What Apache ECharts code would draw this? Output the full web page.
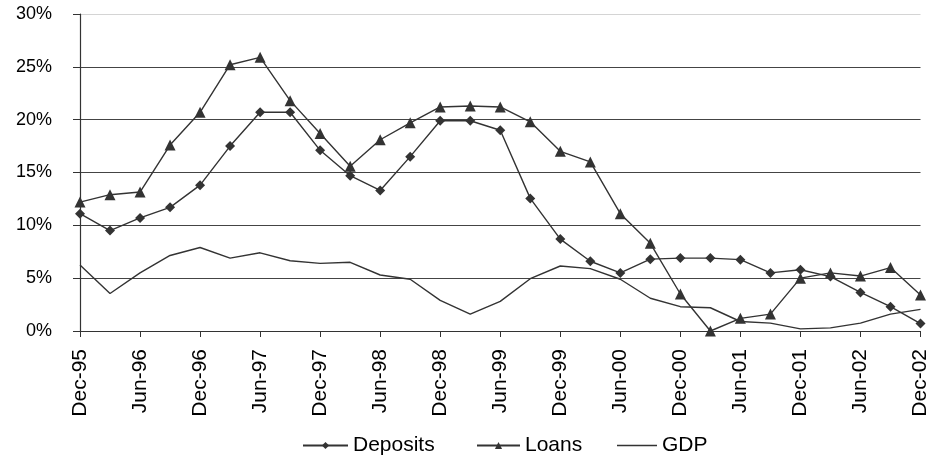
<!DOCTYPE html>
<html>
<head>
<meta charset="utf-8">
<script src="https://cdn.jsdelivr.net/npm/echarts@6/dist/echarts.min.js"></script>
<style>html,body{margin:0;padding:0;background:#fff;}#c{width:931px;height:458px;}</style>
</head>
<body>
<div id="c"></div>
<script>
const categories = ['Dec-95','Mar-96','Jun-96','Sep-96','Dec-96','Mar-97','Jun-97','Sep-97','Dec-97','Mar-98','Jun-98','Sep-98','Dec-98','Mar-99','Jun-99','Sep-99','Dec-99','Mar-00','Jun-00','Sep-00','Dec-00','Mar-01','Jun-01','Sep-01','Dec-01','Mar-02','Jun-02','Sep-02','Dec-02'];
const deposits = [11.1,9.5,10.7,11.7,13.8,17.5,20.7,20.7,17.1,14.7,13.3,16.5,19.9,19.9,19.0,12.55,8.7,6.6,5.5,6.8,6.9,6.9,6.75,5.5,5.8,5.15,3.65,2.3,0.7];
const loans = [12.2,12.9,13.15,17.6,20.7,25.2,25.9,21.8,18.7,15.6,18.1,19.7,21.2,21.3,21.2,19.8,17.0,16.0,11.1,8.3,3.5,0.0,1.2,1.6,5.0,5.5,5.2,6.0,3.4];
const gdp = [6.25,3.55,5.5,7.15,7.9,6.9,7.4,6.65,6.4,6.5,5.3,4.9,2.9,1.6,2.8,4.95,6.15,5.9,4.9,3.1,2.3,2.2,0.9,0.75,0.2,0.3,0.75,1.6,2.05];
const yTicks = [0,5,10,15,20,25,30];
const seriesNames = ['Deposits','Loans','GDP'];

const lineColor = '#333333';
const baseFont = 'Liberation Sans, Arial, sans-serif';
const narrowFont = '"Liberation Sans Narrow", "Liberation Sans", Arial, sans-serif';
const legendText = {fontSize: 21, color: '#000', fontFamily: narrowFont};
function legendAt(left, name, extra) {
  return Object.assign({
    top: 430, left: left, itemWidth: 45, itemHeight: 9, itemGap: 0,
    textStyle: legendText, selectedMode: false,
    data: [name]
  }, extra || {});
}
const chart = echarts.init(document.getElementById('c'), null, {renderer:'canvas'});
chart.setOption({
  animation: false,
  backgroundColor: '#ffffff',
  textStyle: {fontFamily: baseFont},
  grid: {left: 80, right: 4, top: 14, bottom: 127, containLabel: false},
  legend: [
    legendAt(297, seriesNames[0]),
    legendAt(471, seriesNames[1], {itemWidth: 43}),
    legendAt(612, seriesNames[2], {itemWidth: 40, data: [{name: seriesNames[2], icon: 'path://M0,0H40V1.4H0Z'}]})
  ],
  xAxis: {
    type: 'category',
    data: categories,
    boundaryGap: false,
    axisLine: {lineStyle: {color: '#333', width: 1.2}},
    axisTick: {interval: 1, length: 6, lineStyle: {color: '#333'}},
    axisLabel: {interval: 1, rotate: 90, margin: 18, fontSize: 21, color: '#000', fontFamily: baseFont},
    splitLine: {show: false}
  },
  yAxis: {
    type: 'value',
    min: yTicks[0],
    max: yTicks[yTicks.length-1],
    interval: 5,
    axisLine: {show: true, lineStyle: {color: '#333', width: 1.2}},
    axisTick: {show: true, length: 7, lineStyle: {color: '#333'}},
    axisLabel: {formatter: v => v + '%', margin: 28, fontSize: 18, color: '#000', fontFamily: baseFont},
    splitLine: {show: true, lineStyle: {color: ['#444','#444','#444','#444','#444','#444','#d4d4d4'], width: 1.2}}
  },
  series: [
    {name: seriesNames[0], type: 'line', data: deposits, symbol: 'diamond', symbolSize: 10, showAllSymbol: true,
     lineStyle: {color: lineColor, width: 1.4}, itemStyle: {color: lineColor}},
    {name: seriesNames[1], type: 'line', data: loans, symbol: 'triangle', symbolSize: 11, showAllSymbol: true,
     lineStyle: {color: lineColor, width: 1.4}, itemStyle: {color: lineColor}},
    {name: seriesNames[2], type: 'line', data: gdp, symbol: 'none',
     lineStyle: {color: lineColor, width: 1.4}, itemStyle: {color: lineColor}}
  ]
});
</script>
</body>
</html>
